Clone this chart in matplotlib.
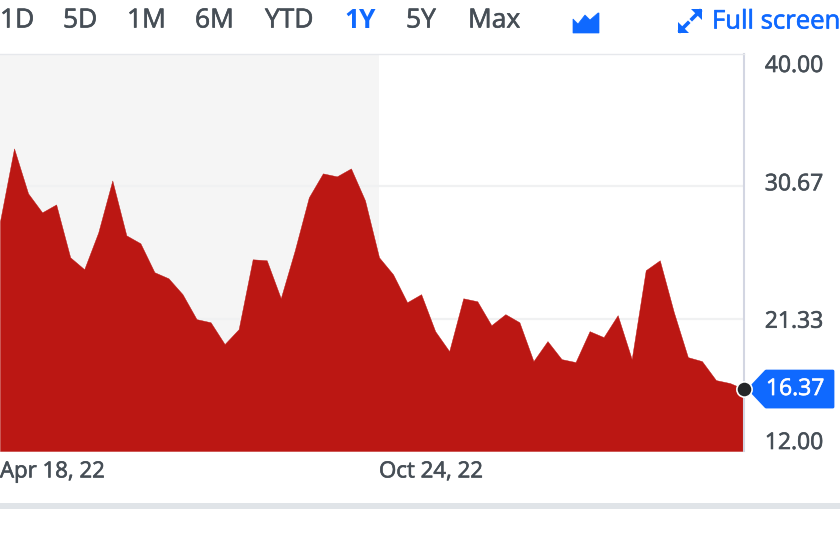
import matplotlib
matplotlib.use("Agg")
import matplotlib.pyplot as plt
import matplotlib.patheffects as pe
from matplotlib.patches import Polygon, Rectangle
from matplotlib.transforms import ScaledTranslation

plt.rcParams['font.family'] = ['Open Sans', 'DejaVu Sans']

prices = [28.2, 33.34, 30.17, 28.83, 29.39, 25.66, 24.82, 27.42, 31.08, 27.21,
          26.65, 24.61, 24.18, 23.06, 21.30, 21.08, 19.54, 20.59, 25.52, 25.45,
          22.77, 26.15, 29.89, 31.58, 31.37, 31.93, 29.68, 25.66, 24.46, 22.49,
          23.06, 20.45, 19.04, 22.77, 22.56, 20.87, 21.65, 21.08, 18.34, 19.75,
          18.48, 18.27, 20.45, 20.03, 21.58, 18.48, 24.75, 25.45, 21.79, 18.62,
          18.34, 17.0, 16.79, 16.37]
weeks = list(range(len(prices)))
y_ticks = [12.00, 21.33, 30.67, 40.00]
y_labels = ["12.00", "21.33", "30.67", "40.00"]
y_label_shift_px = [11, 0, 5, -9]
x_ticks = [0, 27]
x_labels = ["Apr 18, 22", "Oct 24, 22"]
ranges = ["1D", "5D", "1M", "6M", "YTD", "1Y", "5Y", "Max"]
range_x = [0, 63, 127, 195, 265, 344, 406, 468]
active_range = "1Y"
last_price = prices[-1]

W, H = 840, 540
GREY, BLUE, RED = "#464e56", "#0f69ff", "#bb1713"


def heavy(color):
    return [pe.withStroke(linewidth=0.45, foreground=color)]


fig = plt.figure(figsize=(W / 100, H / 100), dpi=100, facecolor="white")
ax = fig.add_axes([0, (H - 451) / H, 744 / W, (451 - 54) / H])
ax.set_xlim(0, 53)
ax.set_ylim(12, 40)
ax.set_facecolor("white")
ax.axvspan(x_ticks[0], x_ticks[1], color="#f5f5f5", lw=0, zorder=0)
for t in y_ticks[1:3]:
    ax.axhline(t, color="#f0f1f2", lw=1.6, zorder=1)
ax.fill_between(weeks, prices, 12, fc=RED, ec=RED, lw=0.3, zorder=2)

for s in ["left", "bottom"]:
    ax.spines[s].set_visible(False)
ax.spines["top"].set_color("#e6e8ec")
ax.spines["top"].set_linewidth(1)
ax.spines["right"].set_color("#d3d6e2")
ax.spines["right"].set_linewidth(1.5)

ax.yaxis.tick_right()
ax.set_yticks(y_ticks, y_labels)
ax.tick_params(axis="y", length=0, pad=15, labelsize=16.5, labelcolor=GREY)
for lab, sh in zip(ax.get_yticklabels(), y_label_shift_px):
    lab.set_transform(lab.get_transform() + ScaledTranslation(0, sh / 100, fig.dpi_scale_trans))
    lab.set_path_effects(heavy(GREY))
ax.set_xticks(x_ticks, x_labels)
ax.tick_params(axis="x", length=0, pad=7.5, labelsize=16, labelcolor=GREY)
for lab in ax.get_xticklabels():
    lab.set_ha("left")
    lab.set_path_effects(heavy(GREY))

# overlay in pixel coordinates for the page chrome
ov = fig.add_axes([0, 0, 1, 1], zorder=5)
ov.set_xlim(0, W)
ov.set_ylim(H, 0)
ov.axis("off")
ov.patch.set_alpha(0)

for name, x in zip(ranges, range_x):
    on = name == active_range
    t = ov.text(x, 21, name, ha="left", va="center", fontsize=19,
                color=BLUE if on else GREY, fontweight="bold" if on else "normal")
    if not on:
        t.set_path_effects(heavy(GREY))
t = ov.text(712, 22, "Full screen", ha="left", va="center", fontsize=18.5, color=BLUE)
t.set_path_effects(heavy(BLUE))

ov.add_patch(Polygon([(573, 33), (573, 19), (578, 24), (585, 15), (590, 20), (598, 13), (599, 13), (599, 33)],
                     closed=True, fc=BLUE, ec=BLUE, lw=0.5))
# full-screen arrows
ov.plot([680, 688], [31, 23], color=BLUE, lw=2.6)
ov.plot([692, 700], [19, 11], color=BLUE, lw=2.6)
ov.add_patch(Polygon([(678, 33), (678, 22), (689, 33)], closed=True, fc=BLUE, lw=0))
ov.add_patch(Polygon([(702, 9), (702, 20), (691, 9)], closed=True, fc=BLUE, lw=0))

ov.add_patch(Rectangle((0, 503), W, 6, fc="#e0e4e8", lw=0))

# price tag anchored on the last price
_, py = ov.transData.inverted().transform(ax.transData.transform((weeks[-1], last_price)))
ov.add_patch(Polygon([(749, py), (766, py - 18), (833, py - 18), (833, py + 18), (766, py + 18)],
                     closed=True, fc=BLUE, ec=BLUE, lw=2, joinstyle="round"))
t = ov.text(795, py, f"{last_price:.2f}", ha="center", va="center", fontsize=16.5, color="white")
t.set_path_effects(heavy("white"))
ov.plot([744], [py], "o", ms=11, mfc="#242628", mec="white", mew=1.2)

fig.savefig("out.png", dpi=100)
